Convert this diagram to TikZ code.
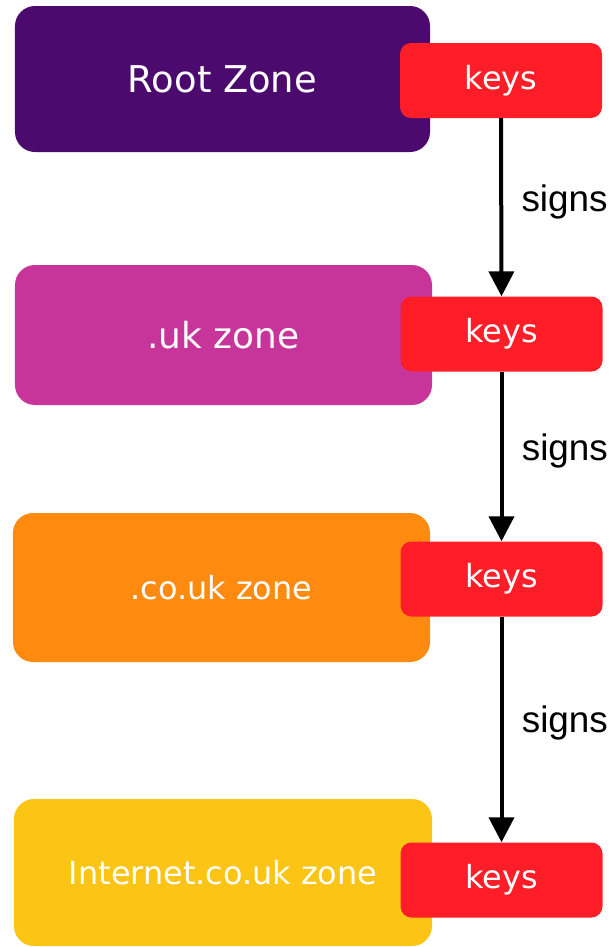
\documentclass[tikz,border=0pt]{standalone}
\usepackage{fontspec}
\setmainfont{DejaVu Sans}
\newfontfamily\signfont{Liberation Sans}
\usetikzlibrary{arrows.meta}

\definecolor{rootpurple}{HTML}{4C0A6E}
\definecolor{ukmagenta}{HTML}{C8359A}
\definecolor{couk}{HTML}{FF8A10}
\definecolor{inetyellow}{HTML}{FCC414}
\definecolor{keyred}{HTML}{FF1E28}

\tikzset{
  zone/.style={rounded corners=20bp, inner sep=0pt, text=white},
  keybox/.style={fill=keyred, rounded corners=11bp, inner sep=0pt,
    minimum width=202bp, minimum height=75bp, text=white,
    font=\fontsize{32}{36}\selectfont},
  signs/.style={line width=4bp, -{Triangle[length=25bp,width=25bp]}},
  signlabel/.style={pos=0.47, right=15bp, font=\signfont\fontsize{37}{40}\selectfont},
}

\begin{document}
\begin{tikzpicture}[x=1bp,y=-1bp]
            \useasboundingbox (0,0) rectangle (612,947);

            % Zones
            \node[zone, fill=rootpurple, minimum width=415bp, minimum height=146bp,
                  font=\fontsize{37}{40}\selectfont] (root) at (222.5,79) {Root Zone};
            \node[zone, fill=ukmagenta, minimum width=417bp, minimum height=140bp,
                  font=\fontsize{36}{40}\selectfont] (uk) at (223.5,335) {.uk zone};
            \node[zone, fill=couk, minimum width=417bp, minimum height=149bp,
                  font=\fontsize{32}{36}\selectfont] (couk) at (221.5,587.5) {.co.uk zone};
            \node[zone, fill=inetyellow, minimum width=418bp, minimum height=147bp,
                  font=\fontsize{32}{36}\selectfont] (inet) at (223,872.5) {Internet.co.uk zone};

            % Keys of each zone
            \node[keybox] (rootkeys) at (501,80.5) {keys};
            \node[keybox] (ukkeys) at (501.5,334) {keys};
            \node[keybox] (coukkeys) at (501.5,579) {keys};
            \node[keybox] (inetkeys) at (501.5,880) {keys};

            % Chain of trust
            \draw[signs] (rootkeys.south) -- (ukkeys.north) node[signlabel] {signs};
            \draw[signs] (ukkeys.south) -- (coukkeys.north) node[signlabel] {signs};
            \draw[signs] (coukkeys.south) -- (inetkeys.north) node[signlabel] {signs};

        \end{tikzpicture}
\end{document}
